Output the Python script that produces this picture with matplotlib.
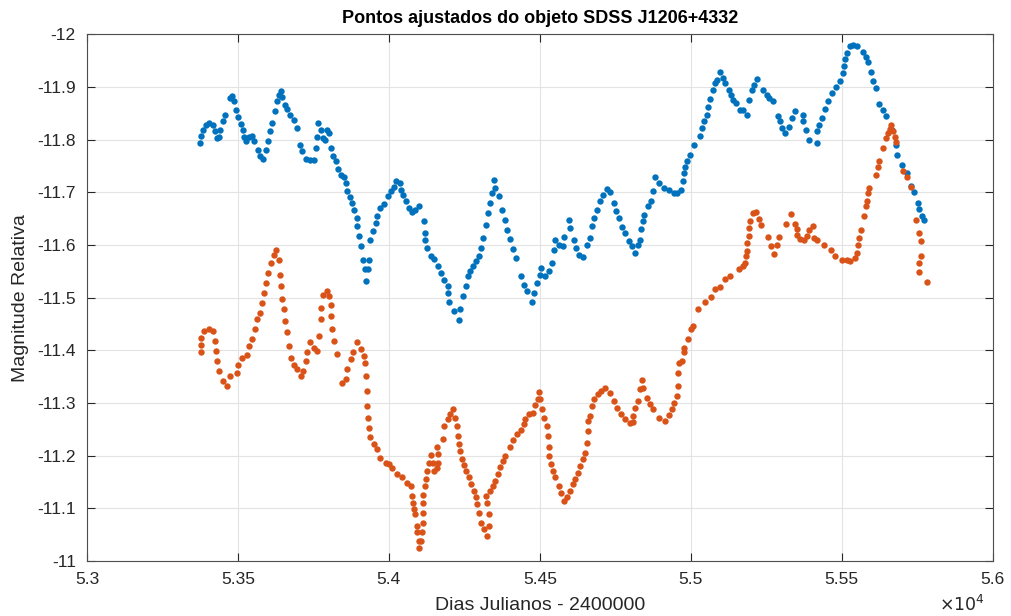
import matplotlib
matplotlib.use("Agg")
import matplotlib.pyplot as plt
from matplotlib.ticker import FuncFormatter

plt.rcParams["font.family"] = ["Liberation Sans", "DejaVu Sans"]

# Julian day - 2400000 and relative magnitude for each fitted series
blue_days = [
    53375, 53379, 53386, 53394, 53405, 53416, 53423, 53430, 53436, 53441,
    53449, 53456, 53473, 53479, 53487, 53495, 53500, 53509, 53517, 53520,
    53528, 53537, 53548, 53553, 53565, 53573, 53584, 53592, 53598, 53606,
    53614, 53622, 53628, 53637, 53642, 53647, 53655, 53664, 53672, 53686,
    53695, 53705, 53713, 53724, 53739, 53752, 53757, 53763, 53765, 53774,
    53783, 53790, 53794, 53801, 53807, 53816, 53824, 53831, 53840, 53851,
    53857, 53862, 53871, 53879, 53886, 53893, 53895, 53901, 53906, 53915,
    53920, 53925, 53930, 53934, 53939, 53948, 53956, 53962, 53972, 53983,
    53997, 54008, 54016, 54024, 54036, 54041, 54048, 54055, 54066, 54077,
    54088, 54099, 54116, 54118, 54121, 54125, 54138, 54149, 54162, 54173,
    54184, 54195, 54195, 54198, 54217, 54231, 54237, 54246, 54254, 54261,
    54270, 54279, 54290, 54298, 54306, 54311, 54320, 54327, 54336, 54342,
    54347, 54353, 54364, 54375, 54383, 54392, 54400, 54411, 54422, 54436,
    54446, 54458, 54474, 54482, 54491, 54499, 54504, 54518, 54529, 54540,
    54546, 54549, 54562, 54577, 54581, 54595, 54601, 54614, 54621, 54628,
    54643, 54656, 54665, 54673, 54680, 54689, 54698, 54709, 54722, 54731,
    54744, 54753, 54761, 54772, 54783, 54794, 54805, 54816, 54824, 54830,
    54836, 54841, 54846, 54857, 54868, 54876, 54882, 54896, 54910, 54926,
    54943, 54954, 54967, 54974, 54976, 54981, 54987, 54998, 55009, 55031,
    55037, 55044, 55053, 55058, 55064, 55073, 55081, 55088, 55097, 55106,
    55114, 55125, 55132, 55141, 55150, 55163, 55174, 55185, 55191, 55202,
    55210, 55220, 55240, 55251, 55260, 55273, 55290, 55295, 55301, 55312,
    55326, 55334, 55345, 55371, 55373, 55380, 55392, 55417, 55419, 55426,
    55435, 55444, 55455, 55467, 55481, 55494, 55503, 55507, 55511, 55518,
    55527, 55538, 55551, 55571, 55580, 55588, 55596, 55602, 55613, 55624,
    55635, 55646, 55665, 55679, 55684, 55698, 55715, 55728, 55739, 55753,
    55756, 55764, 55772,
]
blue_mag = [
    -11.794, -11.808, -11.819, -11.828, -11.832, -11.828, -11.816, -11.803, -11.805, -11.819,
    -11.835, -11.847, -11.879, -11.883, -11.873, -11.857, -11.843, -11.830, -11.818, -11.805,
    -11.797, -11.806, -11.808, -11.797, -11.780, -11.770, -11.763, -11.780, -11.797, -11.816,
    -11.832, -11.854, -11.873, -11.885, -11.892, -11.882, -11.866, -11.858, -11.847, -11.838,
    -11.822, -11.791, -11.778, -11.763, -11.762, -11.762, -11.784, -11.806, -11.832, -11.819,
    -11.803, -11.800, -11.819, -11.813, -11.784, -11.770, -11.759, -11.744, -11.734, -11.730,
    -11.718, -11.702, -11.691, -11.680, -11.667, -11.652, -11.636, -11.617, -11.598, -11.572,
    -11.554, -11.531, -11.554, -11.572, -11.610, -11.626, -11.642, -11.655, -11.671, -11.679,
    -11.693, -11.702, -11.711, -11.721, -11.718, -11.705, -11.696, -11.683, -11.671, -11.662,
    -11.666, -11.674, -11.645, -11.610, -11.623, -11.595, -11.580, -11.574, -11.560, -11.547,
    -11.533, -11.522, -11.509, -11.492, -11.475, -11.457, -11.478, -11.503, -11.522, -11.541,
    -11.550, -11.561, -11.569, -11.579, -11.595, -11.614, -11.639, -11.661, -11.680, -11.699,
    -11.723, -11.708, -11.693, -11.667, -11.647, -11.629, -11.612, -11.593, -11.576, -11.541,
    -11.525, -11.512, -11.492, -11.509, -11.528, -11.544, -11.557, -11.541, -11.550, -11.566,
    -11.591, -11.609, -11.601, -11.598, -11.616, -11.647, -11.633, -11.609, -11.595, -11.582,
    -11.578, -11.601, -11.614, -11.637, -11.652, -11.667, -11.683, -11.696, -11.707, -11.700,
    -11.680, -11.664, -11.652, -11.635, -11.623, -11.607, -11.598, -11.585, -11.601, -11.610,
    -11.631, -11.645, -11.658, -11.674, -11.683, -11.702, -11.729, -11.718, -11.708, -11.704,
    -11.699, -11.699, -11.705, -11.721, -11.737, -11.749, -11.759, -11.772, -11.791, -11.808,
    -11.822, -11.835, -11.847, -11.863, -11.877, -11.895, -11.908, -11.914, -11.929, -11.917,
    -11.908, -11.895, -11.885, -11.876, -11.870, -11.857, -11.857, -11.847, -11.876, -11.895,
    -11.904, -11.915, -11.895, -11.885, -11.879, -11.873, -11.846, -11.835, -11.822, -11.813,
    -11.825, -11.841, -11.854, -11.847, -11.835, -11.819, -11.800, -11.794, -11.816, -11.828,
    -11.841, -11.858, -11.874, -11.889, -11.900, -11.911, -11.926, -11.940, -11.953, -11.964,
    -11.978, -11.980, -11.978, -11.966, -11.958, -11.947, -11.929, -11.911, -11.898, -11.868,
    -11.857, -11.846, -11.819, -11.791, -11.772, -11.753, -11.737, -11.713, -11.700, -11.680,
    -11.669, -11.655, -11.647,
]

orange_days = [
    53377, 53377, 53379, 53388, 53405, 53416, 53423, 53427, 53432, 53438,
    53449, 53465, 53474, 53498, 53500, 53515, 53529, 53537, 53548, 53556,
    53562, 53573, 53581, 53586, 53592, 53600, 53609, 53618, 53625, 53636,
    53639, 53644, 53647, 53651, 53655, 53662, 53669, 53675, 53686, 53697,
    53708, 53717, 53724, 53730, 53739, 53752, 53763, 53768, 53774, 53776,
    53783, 53794, 53801, 53807, 53807, 53813, 53818, 53827, 53846, 53857,
    53862, 53873, 53882, 53895, 53906, 53917, 53920, 53923, 53928, 53928,
    53930, 53934, 53939, 53950, 53962, 53972, 53989, 54000, 54011, 54028,
    54044, 54061, 54072, 54077, 54081, 54083, 54088, 54094, 54094, 54099,
    54099, 54105, 54110, 54114, 54114, 54114, 54114, 54118, 54124, 54127,
    54132, 54138, 54147, 54149, 54158, 54160, 54162, 54162, 54180, 54182,
    54195, 54204, 54213, 54218, 54224, 54228, 54233, 54237, 54243, 54250,
    54257, 54265, 54273, 54281, 54287, 54292, 54298, 54306, 54314, 54325,
    54331, 54331, 54325, 54323, 54334, 54345, 54353, 54360, 54369, 54378,
    54383, 54400, 54411, 54425, 54436, 54446, 54452, 54463, 54478, 54485,
    54493, 54496, 54502, 54507, 54515, 54522, 54526, 54529, 54529, 54537,
    54544, 54551, 54562, 54570, 54581, 54590, 54599, 54610, 54617, 54625,
    54634, 54643, 54651, 54656, 54658, 54658, 54665, 54673, 54678, 54691,
    54702, 54717, 54733, 54746, 54755, 54769, 54783, 54797, 54808, 54810,
    54816, 54824, 54830, 54838, 54843, 54855, 54866, 54876, 54893, 54915,
    54929, 54937, 54945, 54954, 54956, 54959, 54962, 54970, 54976, 54978,
    54989, 55000, 55007, 55025, 55047, 55066, 55081, 55095, 55114, 55130,
    55158, 55172, 55180, 55183, 55187, 55187, 55191, 55194, 55196, 55205,
    55216, 55227, 55232, 55254, 55265, 55276, 55285, 55293, 55315, 55331,
    55345, 55351, 55353, 55362, 55375, 55384, 55392, 55404, 55408, 55417,
    55441, 55463, 55477, 55500, 55516, 55527, 55544, 55549, 55554, 55558,
    55562, 55573, 55580, 55584, 55588, 55591, 55613, 55621, 55624, 55635,
    55646, 55654, 55659, 55663, 55668, 55676, 55679, 55701, 55715, 55728,
    55745, 55756, 55761, 55761, 55756, 55756, 55781,
]
orange_mag = [
    -11.396, -11.411, -11.424, -11.437, -11.440, -11.437, -11.418, -11.399, -11.380, -11.361,
    -11.342, -11.332, -11.351, -11.358, -11.373, -11.386, -11.392, -11.408, -11.421, -11.440,
    -11.459, -11.471, -11.490, -11.509, -11.528, -11.547, -11.566, -11.582, -11.590, -11.572,
    -11.544, -11.522, -11.497, -11.478, -11.456, -11.434, -11.408, -11.386, -11.373, -11.364,
    -11.351, -11.361, -11.380, -11.396, -11.415, -11.405, -11.399, -11.427, -11.459, -11.481,
    -11.506, -11.512, -11.503, -11.487, -11.465, -11.440, -11.418, -11.394, -11.339, -11.345,
    -11.364, -11.383, -11.396, -11.415, -11.402, -11.389, -11.377, -11.351, -11.323, -11.294,
    -11.272, -11.253, -11.235, -11.222, -11.212, -11.195, -11.186, -11.184, -11.176, -11.165,
    -11.159, -11.149, -11.143, -11.124, -11.111, -11.099, -11.089, -11.067, -11.056, -11.038,
    -11.024, -11.038, -11.056, -11.073, -11.092, -11.111, -11.125, -11.143, -11.155, -11.171,
    -11.187, -11.201, -11.187, -11.171, -11.176, -11.216, -11.187, -11.203, -11.231, -11.257,
    -11.269, -11.279, -11.288, -11.272, -11.257, -11.238, -11.222, -11.209, -11.193, -11.182,
    -11.171, -11.159, -11.146, -11.133, -11.121, -11.108, -11.092, -11.073, -11.061, -11.048,
    -11.067, -11.089, -11.111, -11.124, -11.133, -11.142, -11.152, -11.165, -11.178, -11.190,
    -11.199, -11.216, -11.230, -11.241, -11.249, -11.260, -11.269, -11.279, -11.282, -11.296,
    -11.307, -11.321, -11.307, -11.288, -11.272, -11.257, -11.238, -11.216, -11.199, -11.184,
    -11.171, -11.159, -11.143, -11.129, -11.114, -11.121, -11.133, -11.146, -11.155, -11.168,
    -11.181, -11.193, -11.206, -11.225, -11.247, -11.266, -11.275, -11.294, -11.307, -11.317,
    -11.323, -11.329, -11.320, -11.304, -11.290, -11.279, -11.269, -11.263, -11.264, -11.275,
    -11.291, -11.304, -11.326, -11.344, -11.329, -11.310, -11.298, -11.288, -11.271, -11.266,
    -11.277, -11.288, -11.301, -11.313, -11.332, -11.358, -11.377, -11.380, -11.396, -11.405,
    -11.421, -11.440, -11.447, -11.479, -11.492, -11.502, -11.516, -11.521, -11.535, -11.542,
    -11.554, -11.560, -11.566, -11.579, -11.588, -11.604, -11.617, -11.633, -11.645, -11.661,
    -11.662, -11.650, -11.639, -11.616, -11.598, -11.584, -11.601, -11.616, -11.641, -11.660,
    -11.641, -11.631, -11.620, -11.612, -11.609, -11.617, -11.628, -11.637, -11.614, -11.609,
    -11.601, -11.590, -11.579, -11.572, -11.571, -11.569, -11.576, -11.585, -11.601, -11.614,
    -11.628, -11.655, -11.674, -11.683, -11.699, -11.708, -11.734, -11.749, -11.759, -11.784,
    -11.803, -11.813, -11.820, -11.828, -11.816, -11.806, -11.795, -11.740, -11.730, -11.710,
    -11.648, -11.623, -11.607, -11.579, -11.566, -11.548, -11.529,
]

x_ticks = [53000, 53500, 54000, 54500, 55000, 55500, 56000]
y_ticks = [-12.0, -11.9, -11.8, -11.7, -11.6, -11.5, -11.4, -11.3, -11.2, -11.1, -11.0]

fig = plt.figure(figsize=(10.11, 6.16), dpi=100)
ax = fig.add_axes([0.086, 0.0893, 0.896, 0.8547])

ax.plot(blue_days, blue_mag, "o", color="#0072BD", markersize=4.6,
        markeredgewidth=0, zorder=3)
ax.plot(orange_days, orange_mag, "o", color="#D95319", markersize=4.6,
        markeredgewidth=0, zorder=3)

ax.set_xlim(53000, 56000)
ax.set_ylim(-11.0, -12.0)
ax.set_xticks(x_ticks)
ax.set_yticks(y_ticks)
ax.xaxis.set_major_formatter(FuncFormatter(lambda v, p: f"{v / 1e4:g}"))
ax.yaxis.set_major_formatter(FuncFormatter(lambda v, p: f"{v:g}"))

ax.grid(True, color="#e3e3e3", linewidth=0.8, zorder=0)
ax.set_axisbelow(True)
for spine in ax.spines.values():
    spine.set_color("#4d4d4d")
    spine.set_linewidth(0.8)
ax.tick_params(direction="in", length=6, width=0.8, colors="#262626",
               labelsize=12.5, top=True, right=True, pad=8)

ax.set_title("Pontos ajustados do objeto SDSS J1206+4332", fontsize=13,
             fontweight="bold", color="black", pad=8)
ax.set_xlabel("Dias Julianos - 2400000", fontsize=14, color="#262626", labelpad=7)
ax.set_ylabel("Magnitude Relativa", fontsize=14, color="#262626", labelpad=6)
ax.text(0.991, -0.095, r"$\times10^{4}$", transform=ax.transAxes, fontsize=12.5,
        color="#262626", ha="right", va="baseline")

fig.savefig("out.png", dpi=100)
